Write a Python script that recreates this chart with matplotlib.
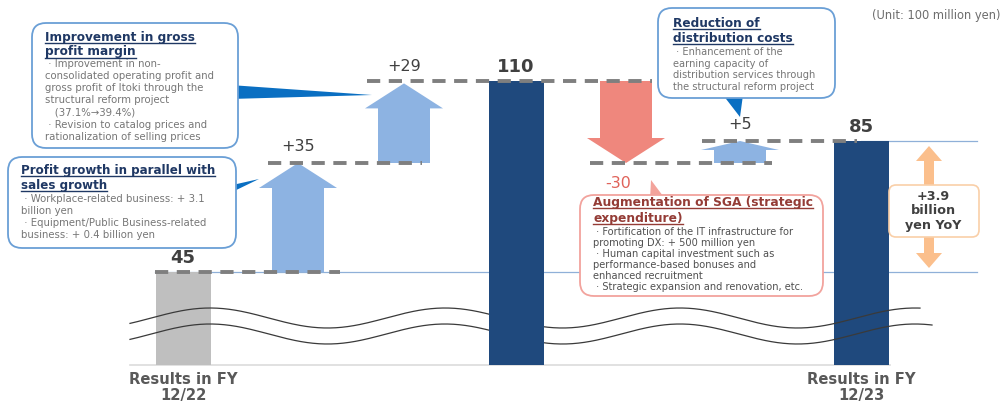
import numpy as np
import matplotlib
matplotlib.use("Agg")
import matplotlib.pyplot as plt
from matplotlib.patches import Polygon, FancyBboxPatch
from matplotlib.lines import Line2D

plt.rcParams['font.family'] = ['DejaVu Sans']

# ---------------- data ----------------
steps = ["FY12/22", "Sales growth", "Gross profit margin", "Subtotal",
         "SGA", "Distribution costs", "FY12/23"]
step_kinds = ["total", "delta", "delta", "total", "delta", "delta", "total"]
step_values = [45, 35, 29, 110, -30, 5, 85]
value_labels = ["45", "+35", "+29", "110", "-30", "+5", "85"]
axis_labels = ["Results in FY\n12/22", "", "", "", "", "", "Results in FY\n12/23"]
yoy_text = "+3.9\nbillion\nyen YoY"
unit_text = "(Unit: 100 million yen)"

callout1_title = ["Improvement in gross", "profit margin"]
callout1_body = [" \u00b7 Improvement in non-", "consolidated operating profit and",
                 "gross profit of Itoki through the", "structural reform project",
                 "   (37.1%\u219239.4%)", " \u00b7 Revision to catalog prices and",
                 "rationalization of selling prices"]
callout2_title = ["Profit growth in parallel with", "sales growth"]
callout2_body = [" \u00b7 Workplace-related business: + 3.1", "billion yen",
                 " \u00b7 Equipment/Public Business-related", "business: + 0.4 billion yen"]
callout3_title = ["Reduction of", "distribution costs"]
callout3_body = [" \u00b7 Enhancement of the", "earning capacity of",
                 "distribution services through", "the structural reform project"]
callout4_title = ["Augmentation of SGA (strategic", "expenditure)"]
callout4_body = [" \u00b7 Fortification of the IT infrastructure for",
                 "promoting DX: + 500 million yen",
                 " \u00b7 Human capital investment such as",
                 "performance-based bonuses and", "enhanced recruitment",
                 " \u00b7 Strategic expansion and renovation, etc."]

# ---------------- layout ----------------
W, H = 1005, 403
x_pos = np.array([183, 298, 404, 516, 626, 740, 861])   # layout positions (px-like units)
bar_w = 55
# broken (piecewise) value axis: value knots -> pixel-from-top
VAL_K = np.array([-100.0, 0, 45, 80, 85, 110, 250])
PX_K = np.array([365 + 100 * 93 / 45, 365, 272, 163, 141, 81, 81 - 140 * 2.4])
T_K = H - PX_K


def fwd(v):
    return np.interp(v, VAL_K, T_K)


def inv(t):
    return np.interp(t, T_K, VAL_K)


C_GRAY = "#bfbfbf"
C_NAVY = "#1f497d"
C_UP = "#8db3e2"
C_DOWN = "#ef877d"
C_ORANGE = "#fbbf8c"
C_TXT = "#404040"

fig = plt.figure(figsize=(W / 100, H / 100), dpi=100)
ax = fig.add_axes([0, 0, 1, 1])
ax.set_axis_off()
ax.set_yscale('function', functions=(fwd, inv))
ax.set_xlim(0, W)
ax.set_ylim(inv(0), inv(H))
ax.set_autoscale_on(False)

ax2 = fig.add_axes([0, 0, 1, 1], zorder=5)
ax2.set_xlim(0, W)
ax2.set_ylim(H, 0)
ax2.set_axis_off()
ax2.patch.set_visible(False)

# reference lines
ax.plot([155, 977], [step_values[0]] * 2, color="#8fb0d8", lw=0.9, zorder=1)
ax.plot([861, 977], [step_values[-1]] * 2, color="#8fb0d8", lw=0.9, zorder=1)
ax.plot([130, 890], [0, 0], color="#dcdcdc", lw=1.2, zorder=1)


def arrow_poly(xc, v0, v1, sw, hw, hl):
    sgn = 1 if v1 > v0 else -1
    vb = inv(fwd(v1) - sgn * hl)
    return [(xc - sw, v0), (xc - sw, vb), (xc - hw, vb), (xc, v1),
            (xc + hw, vb), (xc + sw, vb), (xc + sw, v0)]


# waterfall
level = 0
levels = []
for i, (kind, val) in enumerate(zip(step_kinds, step_values)):
    xc = x_pos[i]
    if kind == "total":
        color = C_GRAY if i == 0 else C_NAVY
        z = 4 if (i != 0 and i != len(step_values) - 1) else 2
        ax.bar(xc, val, width=bar_w, bottom=0, color=color, zorder=z)
        level = val
        levels.append((level, level))
        ax.annotate(value_labels[i], (xc, val), xytext=(0, 5), textcoords="offset pixels",
                    ha="center", va="bottom", fontsize=13, fontweight="bold", color=C_TXT)
    else:
        start, end = level, level + val
        small = abs(fwd(end) - fwd(start)) < 40
        hl = 9 if small else 25
        color = C_UP if val > 0 else C_DOWN
        ax.add_patch(Polygon(arrow_poly(xc, start, end, 26, 39, hl), closed=True,
                             facecolor=color, edgecolor="none", zorder=4))
        if val > 0:
            ax.annotate(value_labels[i], (xc, end), xytext=(0, 9), textcoords="offset pixels",
                        ha="center", va="bottom", fontsize=11.5, color=C_TXT)
        else:
            ax.annotate(value_labels[i], (xc - 8, end), xytext=(0, -13),
                        textcoords="offset pixels", ha="center", va="top",
                        fontsize=11.5, color="#e0635a")
        level = end
        levels.append((start, end))

# dashed connectors
dash_segments = [(0, 155, 340), (1, 268, 422), (3, 367, 652), (4, 590, 772), (5, 702, 857)]
for idx, xa, xb in dash_segments:
    lv = levels[idx][1]
    ax.plot([xa, xb], [lv, lv], color="#7f7f7f", lw=2.8, ls=(0, (3.4, 2.2)), zorder=6)

# axis labels
for i, lab in enumerate(axis_labels):
    if lab:
        ax.annotate(lab, (x_pos[i], 0), xytext=(0, -7), textcoords="offset pixels",
                    ha="center", va="top", fontsize=10.6, fontweight="bold",
                    color="#595959", linespacing=1.05)

# break waves
xs = np.linspace(130, 920, 400)
yu = 318 - 10 * np.cos(2 * np.pi * (xs - 210) / 235)
xs2 = np.linspace(130, 932, 400)
yl = 334 - 10 * np.cos(2 * np.pi * (xs2 - 210) / 235)
ax.add_line(Line2D(xs, yu, color="#3a3a3a", lw=0.9, transform=ax2.transData, zorder=3))
ax.add_line(Line2D(xs2, yl, color="#3a3a3a", lw=0.9, transform=ax2.transData, zorder=3))

# ---------------- callouts (overlay, pixel coords) ----------------
title_texts = []


def box(x0, y0, x1, y1, ec, lw=1.3, r=14):
    ax2.add_patch(FancyBboxPatch((x0 + r, y0 + r), x1 - x0 - 2 * r, y1 - y0 - 2 * r,
                                 boxstyle=f"round,pad={r}", facecolor="white",
                                 edgecolor=ec, lw=lw, zorder=2))


def callout(rect, ec, tx, title, tb, tstep, tcol, tsize, body, bb, bstep, bcol, bsize):
    box(*rect, ec)
    for k, line in enumerate(title):
        t = ax2.text(tx, tb + k * tstep, line, fontsize=tsize, fontweight="bold",
                     color=tcol, va="baseline", ha="left", zorder=3)
        title_texts.append(t)
    for k, line in enumerate(body):
        ax2.text(tx, bb + k * bstep, line, fontsize=bsize, color=bcol,
                 va="baseline", ha="left", zorder=3)


C_BOX = "#6a9fd6"
C_TITLE = "#1f3864"
C_POINT = "#0a6fc2"

# pointers (drawn first, under boxes)
ax2.add_patch(Polygon([(230, 85), (230, 99), (372, 95)], closed=True,
                      facecolor=C_POINT, edgecolor="none", zorder=1))
ax2.add_patch(Polygon([(228, 186), (228, 194), (259, 179)], closed=True,
                      facecolor=C_POINT, edgecolor="none", zorder=1))
ax2.add_patch(Polygon([(723, 95), (743, 95), (740, 117)], closed=True,
                      facecolor=C_POINT, edgecolor="none", zorder=1))
ax2.add_patch(Polygon([(650, 200), (666, 200), (651, 180)], closed=True,
                      facecolor="#f3a39b", edgecolor="none", zorder=1))

callout((32, 23, 238, 148), C_BOX, 45, callout1_title, 41, 14.5, C_TITLE, 8.7,
        callout1_body, 67, 12.1, "#767676", 7.3)
callout((8, 157, 236, 248), C_BOX, 21, callout2_title, 174, 14.5, C_TITLE, 8.6,
        callout2_body, 202, 12.0, "#767676", 7.3)
callout((658, 8, 835, 98), C_BOX, 673, callout3_title, 27, 14.5, C_TITLE, 8.7,
        callout3_body, 55, 11.6, "#767676", 7.1)
callout((580, 195, 823, 296), "#f2a39d", 593, callout4_title, 206, 16, "#943c36", 8.8,
        callout4_body, 235, 10.9, "#505050", 7.1)

# YoY double arrow + box
xa = 929
ax2.add_patch(Polygon([(xa, 146), (xa - 13, 161), (xa - 5, 161), (xa - 5, 253),
                       (xa - 13, 253), (xa, 268), (xa + 13, 253), (xa + 5, 253),
                       (xa + 5, 161), (xa + 13, 161)], closed=True,
                      facecolor=C_ORANGE, edgecolor="none", zorder=1))
ax2.add_patch(FancyBboxPatch((896, 192), 76, 38, boxstyle="round,pad=7",
                             facecolor="white", edgecolor="#f9cfa8", lw=1.2, zorder=2))
ax2.text(933, 211, yoy_text, ha="center", va="center", fontsize=9.2,
         fontweight="bold", color=C_TXT, linespacing=1.15, zorder=3)

ax2.text(1000, 15, unit_text, ha="right", va="center", fontsize=8.3, color="#6d6d6d")

# underline titles
fig.canvas.draw()
rend = fig.canvas.get_renderer()
inv2 = ax2.transData.inverted()
for t in title_texts:
    bbx = t.get_window_extent(rend)
    (x0, _), (x1, _) = inv2.transform([(bbx.x0, bbx.y0), (bbx.x1, bbx.y1)])
    yb = t.get_position()[1] + 2.2
    ax2.plot([x0, x1], [yb, yb], color=t.get_color(), lw=1.0, zorder=3)

fig.savefig("out.png", dpi=100)
